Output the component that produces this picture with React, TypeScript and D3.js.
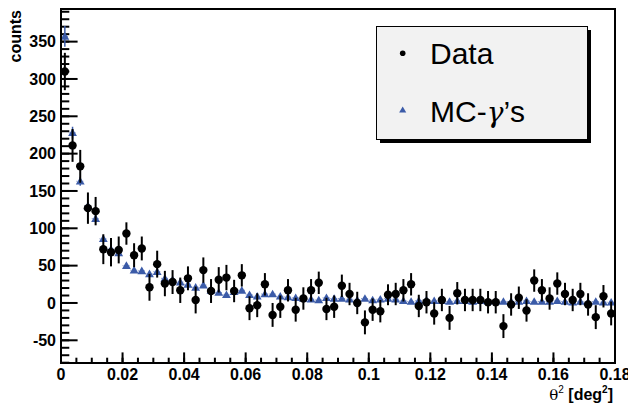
import React from "react";
import * as d3 from "d3";

const binWidth = 0.0025;
const dataCounts = [310,211,183,127,123,72,68,71,93,64,73,21,52,26,28,17,33,4,44,16,31,34,16,37,-7,-3,25,-16,-5,17,-9,6,17,27,-8,-5,23,12,0,-26,-9,-11,11,12,17,25,-4,1,-14,4,-20,13,4,4,4,1,1,-31,-2,7,-10,30,17,6,26,12,4,12,-2,-19,9,-14];
const dataErrors = [25,22,22,21,19,20,19,18,15,16,16,18,18,17,16,17,16,18,17,16,17,17,15,15,16,16,15,16,15,15,16,15,15,15,15,15,15,15,15,16,15,15,14,15,15,15,15,15,15,15,16,15,15,15,15,15,15,16,15,15,15,15,15,15,15,15,15,15,15,16,15,16];
const mcCounts = [357,228,163,130,113,86,72,67,50,44,43,39,42,33,31,28,25,21,24,17,14,11,15,17,11,9,12,12,9,8,7,6,5,4,7,6,6,5,4,6,4,5,6,5,3,2,3,4,3,3,2,3,3,2,3,2,3,2,2,2,3,2,2,2,3,2,1,2,1,2,1,1];
const mcErrors = [14,8,6,5,4,4,3,3,3,3,3,3,3,2,2,2,2,2,2,2,2,2,2,2,2,2,2,2,2,2,2,2,2,2,2,2,2,2,2,2,2,2,2,2,2,2,2,2,2,2,2,2,2,2,2,2,2,2,2,2,2,2,2,2,2,2,2,2,2,2,2,2];
const xTicks = [0, 0.02, 0.04, 0.06, 0.08, 0.1, 0.12, 0.14, 0.16, 0.18];
const xTickLabels = ["0", "0.02", "0.04", "0.06", "0.08", "0.1", "0.12", "0.14", "0.16", "0.18"];
const yTicks = [-50, 0, 50, 100, 150, 200, 250, 300, 350];
const legendLabels = ["Data", "MC-"];

const FONT = "'Liberation Sans', Arial, Helvetica, sans-serif";
const BLUE = "#3b5ba8";

export default function App() {
  const left = 61, right = 615, top = 9, bottom = 363;
  const x = d3.scaleLinear().domain([0, 0.18]).range([left, right]);
  const y = d3.scaleLinear().domain([-80.4, 393.7]).range([bottom, top]);

  const xMinor = d3.range(0, 0.18 + 1e-9, 0.005);
  const yMinor = d3.range(-80, 391, 10);
  const centers = dataCounts.map((_, i) => (i + 0.5) * binWidth);
  const tri = d3.symbol().type(d3.symbolTriangle).size(34)();

  return (
    <svg width={628} height={405} style={{ position: "absolute", left: 0, top: 0, background: "#fff" }} fontFamily={FONT}>
      <rect x={0} y={0} width={628} height={405} fill="#fff" />
      <defs>
        <clipPath id="plotclip">
          <rect x={left} y={top} width={right - left} height={bottom - top} />
        </clipPath>
      </defs>

      {/* y minor & major ticks */}
      {yMinor.map((v) => (
        <line key={"ym" + v} x1={left} x2={left + 8.3} y1={y(v)} y2={y(v)} stroke="#000" strokeWidth={2} />
      ))}
      {yTicks.map((v) => (
        <g key={"yt" + v}>
          <line x1={left} x2={left + 16.6} y1={y(v)} y2={y(v)} stroke="#000" strokeWidth={2} />
          <text x={56} y={y(v) + 5.7} textAnchor="end" fontSize={16} fontWeight="bold">{v}</text>
        </g>
      ))}
      {xMinor.map((v) => (
        <line key={"xm" + v} x1={x(v)} x2={x(v)} y1={bottom} y2={bottom - 5.3} stroke="#000" strokeWidth={2} />
      ))}
      {xTicks.map((v, i) => (
        <g key={"xt" + v}>
          <line x1={x(v)} x2={x(v)} y1={bottom} y2={bottom - 10.6} stroke="#000" strokeWidth={2} />
          <text x={x(v)} y={380} textAnchor="middle" fontSize={16} fontWeight="bold">{xTickLabels[i]}</text>
        </g>
      ))}

      <g clipPath="url(#plotclip)">
        {/* MC */}
        {mcCounts.map((v, i) => (
          <g key={"mc" + i}>
            <line x1={x(centers[i] - binWidth / 2)} x2={x(centers[i] + binWidth / 2)} y1={y(v)} y2={y(v)} stroke={BLUE} strokeWidth={1} strokeDasharray="1,1" opacity={0.6} />
            <line x1={x(centers[i])} x2={x(centers[i])} y1={y(v - mcErrors[i])} y2={y(v + mcErrors[i])} stroke={BLUE} strokeWidth={1.5} />
            <path d={tri} transform={`translate(${x(centers[i])},${y(v) + 0.8})`} fill={BLUE} />
          </g>
        ))}
        {/* Data */}
        {dataCounts.map((v, i) => (
          <g key={"d" + i}>
            <line x1={x(centers[i])} x2={x(centers[i])} y1={y(v - dataErrors[i])} y2={y(v + dataErrors[i])} stroke="#000" strokeWidth={2} />
            <circle cx={x(centers[i])} cy={y(v)} r={4.2} fill="#000" />
          </g>
        ))}
      </g>

      {/* frame */}
      <rect x={left} y={top} width={right - left} height={bottom - top} fill="none" stroke="#000" strokeWidth={2} />

      {/* axis titles */}
      <text transform="translate(21,10) rotate(-90)" textAnchor="end" fontSize={16} fontWeight="bold">counts</text>
      <text x={613} y={400} textAnchor="end" fontSize={16}>
        <tspan fontFamily="'DejaVu Serif', serif" fontSize={15}>θ</tspan>
        <tspan fontSize={10} dy={-7}>2</tspan>
        <tspan dy={7} fontWeight="bold"> [deg</tspan>
        <tspan fontSize={10} dy={-7} fontWeight="bold">2</tspan>
        <tspan dy={7} fontWeight="bold">]</tspan>
      </text>

      {/* legend */}
      <rect x={380} y={30} width={211} height={113} fill="#000" />
      <rect x={376.5} y={26.5} width={211} height={113} fill="#f2f2f2" stroke="#000" strokeWidth={1} />
      <circle cx={402.7} cy={53.3} r={2.8} fill="#000" />
      <text x={430} y={63.5} fontSize={30}>{legendLabels[0]}</text>
      <path d={d3.symbol().type(d3.symbolTriangle).size(22)()} transform="translate(402.7,110.5)" fill={BLUE} />
      <text x={430} y={121.5} fontSize={30}>
        {legendLabels[1]}
        <tspan fontFamily="'DejaVu Serif', serif" fontStyle="italic" fontSize={28}>γ</tspan>
        <tspan>’s</tspan>
      </text>
    </svg>
  );
}
